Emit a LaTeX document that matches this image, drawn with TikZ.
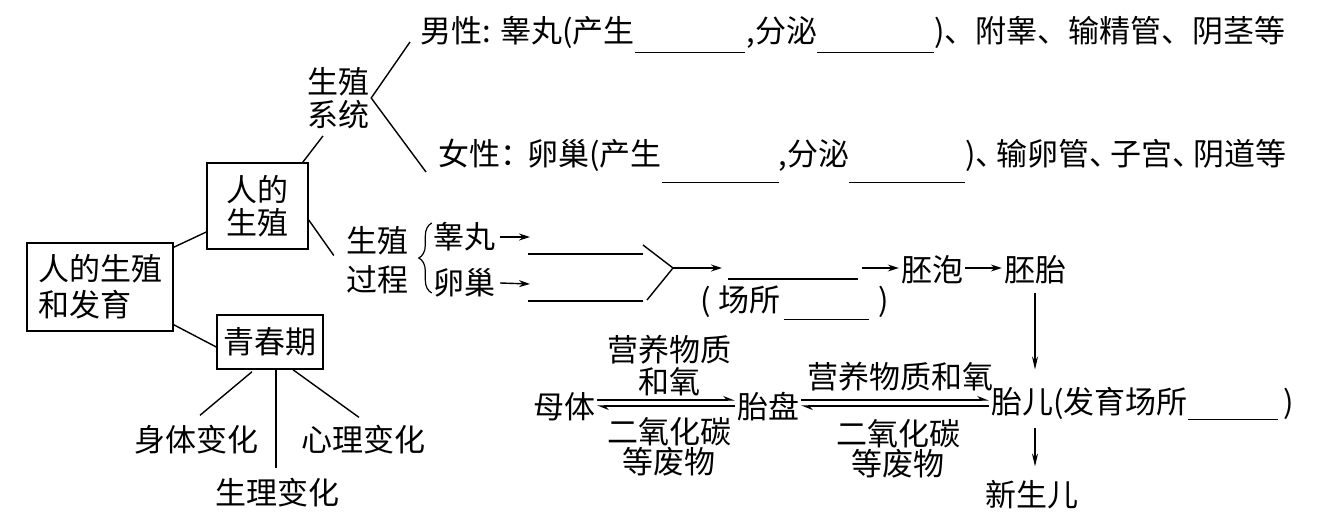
\documentclass[tikz,border=0pt]{standalone}
\usepackage{fontspec}
\setmainfont{Noto Sans CJK SC}
\usetikzlibrary{arrows.meta,calc,decorations.pathreplacing}
\newcommand\blnk[2]{\smash{\rule[#2]{#1}{1.3pt}}}
\newcommand\dun{、\kern-10pt}
\begin{document}
\begin{tikzpicture}[x=1pt,y=-1pt,
  every node/.style={font=\fontsize{31}{33}\selectfont, inner sep=0pt},
  box/.style={draw, line width=1.5pt},
  ln/.style={line width=1.4pt},
  arr/.style={line width=1.4pt,-{Stealth[length=11pt,width=7pt]}},
  varr/.style={line width=1.2pt,-{Stealth[length=13pt,width=6pt]}},
  harp/.style={line width=1.2pt,-{Stealth[harpoon,length=10pt,width=8pt]}},
  fl/.style={inner sep=2pt}
]
\useasboundingbox (0,0) rectangle (1332,529);

% left part
\node[box, minimum width=146pt, minimum height=88pt, align=left, font=\fontsize{31}{36}\selectfont] (big) at (100,287) {人的生殖\\和发育};
\node[box, minimum width=101pt, minimum height=86pt, align=center] (rs) at (257.5,206) {人的\\生殖};
\node[box, minimum width=106pt, minimum height=54pt] (qcq) at (270,342) {青春期};
\node (stbh) at (196,440) {身体变化};
\node (xlbh) at (363,440) {心理变化};
\node (slbh) at (277,493) {生理变化};
\node[align=center] (xt) at (338,98) {生殖\\系统};
\node[align=center] (gc) at (377,260.5) {生殖\\[6pt]过程};

\draw[ln] ($(big.north east)+(0,5)$) -- ($(rs.west)+(0,26)$);
\draw[ln] ($(big.south east)+(0,-7)$) -- ($(qcq.west)+(0,5)$);
\draw[ln] ($(rs.north east)+(-6,0)$) -- ($(xt.south)+(-15,7)$);
\draw[ln] ($(rs.east)+(0,14)$) -- ($(gc.west)+(-12,-5)$);
\draw[ln] ($(qcq.south)+(-18,2)$) -- ($(stbh.north)+(4,-10)$);
\draw[ln] ($(qcq.south)+(6,0)$) -- ($(slbh.north)+(-1,-10)$);
\draw[ln] ($(qcq.south)+(23,0)$) -- ($(xlbh.north)+(-4,-8)$);

% reproductive system
\node[anchor=base west] (male) at (420,43) {男性: 睾丸(产生\blnk{110pt}{-10pt}\kern2pt,分泌\blnk{117pt}{-10pt})、附睾、输精管、阴茎等};
\node[anchor=base west] (female) at (438,166) {女性：\kern-4pt卵巢(产生\blnk{117pt}{-17pt},分泌\blnk{116pt}{-17pt})\dun{}输卵管\dun{}子宫\dun{}阴道等};
\draw[ln] ($(male.base west)+(-10,-1)$) -- ($(xt.east)+(2,0)$) -- ($(female.base west)+(-12,6)$);

% reproductive process
\node (gw) at (464,237) {睾丸};
\node (lc) at (464,283) {卵巢};
\draw[line width=1.2pt, decorate, decoration={brace, amplitude=13pt}] ($(lc.west)+(-1,10)$) -- ($(gw.west)+(-1,-14)$);
\coordinate (ga) at (530,237);
\coordinate (la) at (530,284);
\draw[arr] ([xshift=5pt]gw.east) -- (ga);
\draw[arr] ([xshift=5pt]lc.east) -- (la);
\draw[ln] (528,254) -- (643,254);
\draw[ln] (528,301) -- (643,301);
\coordinate (v) at (673,268);
\draw[ln] (643,245) -- (v) -- (647,300);
\coordinate (fe) at (722,268);
\draw[arr] (v) -- (fe);
\draw[ln] (728,279) -- (858,279);
\node[fl] (pp) at (932,270) {胚泡};
\node[fl] (pt) at (1035,270) {胚胎};
\coordinate (fa) at (862,268);
\draw[arr] (fa) -- (pp.west |- fa);
\draw[arr] (pp.east |- fa) -- (pt.west |- fa);
\node[anchor=base west] (cs) at (700,311) {(\kern8pt场所\kern3pt\blnk{85pt}{-9pt}\kern10pt)};

% development
\node[fl] (mt) at (564,407) {母体};
\node[fl] (tp) at (768,407) {胎盘};
\node[fl] (te) at (1022,402) {胎儿};
\node[anchor=base west] (tes) at (1053,413) {(发育场所\blnk{90pt}{-7pt}\kern6pt)};
\node (xse) at (1032,495) {新生儿};
\node[align=center, font=\fontsize{31}{32}\selectfont] (yy1) at (669,366) {营养物质\\和氧};
\node[align=center, font=\fontsize{31}{30}\selectfont] (ey1) at (669,447) {二氧化碳\\等废物};
\node (yy2) at (900,377) {营养物质和氧};
\node[align=center, font=\fontsize{31}{28}\selectfont] (ey2) at (898,449) {二氧化碳\\等废物};

\draw[harp] ([yshift=7pt]mt.east) -- ([yshift=7pt]tp.west);
\draw[harp] ([yshift=1pt]tp.west) -- ([yshift=1pt]mt.east);
\draw[harp] ([yshift=7pt]tp.east) -- ([yshift=2pt]te.west);
\draw[harp] ([yshift=-4pt]te.west) -- ([yshift=1pt]tp.east);

\draw[varr] ($(pt.south)+(0,7)$) -- ($(pt.south |- te.north)+(0,-16)$);
\draw[varr] ($(te.south -| pt)+(0,9)$) -- ($(xse.north -| pt)+(0,-14)$);
\end{tikzpicture}
\end{document}
